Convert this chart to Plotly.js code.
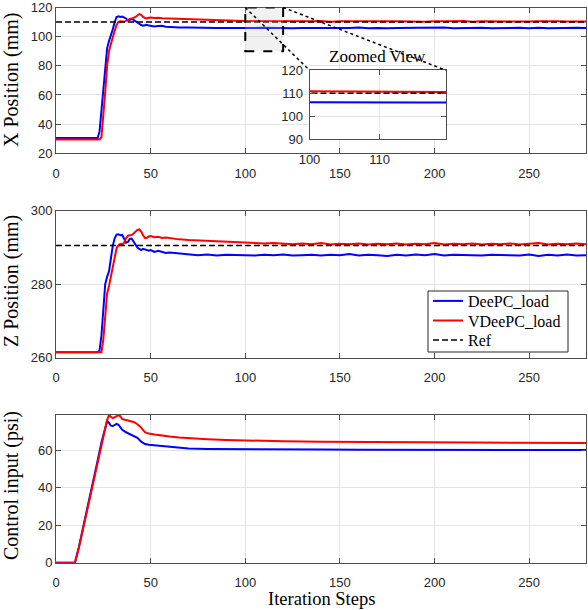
<!DOCTYPE html>
<html><head><meta charset="utf-8">
<script src="https://cdn.plot.ly/plotly-3.0.1.min.js"></script>
<style>html,body{margin:0;padding:0;background:#fff}#chart{width:588px;height:610px}</style>
</head><body><div id="chart"></div>
<script>
// ---------- data ----------
const steps = [0,22,23,24,25,26,27,28,29,30,31,32,33,34,35,36,37,38,39,40,41,42,43,44,45,46,47,48,49,50,52,54,56,58,
  60,65,70,75,80,85,90,95,100,105,110,115,120,125,130,135,140,145,150,155,160,165,170,175,180,185,190,195,200,205,210,215,220,225,230,235,240,245,250,255,260,265,270,275,280];

const xDeePC = [30.5,
  30.5,35,50,65,80,92,97,100.5,105,110,113.5,114,113.5,113.8,113.2,112.5,111,111.5,112,111.5,110.5,109.5,108.5,108,107.5,108,108.2,107.6,107.3,
  107,107.3,107.5,106.8,
  106.6,106.3,106.2,106.0,106.1,105.9,106.0,105.8,106.0,105.9,106.1,105.9,106.0,105.7,106.0,105.9,106.1,105.8,106.0,105.9,106.2,105.8,106.0,105.7,106.0,
  106.1,105.8,106.0,105.9,106.2,105.8,106.0,105.9,106.1,105.8,106.0,105.9,106.1,105.7,106.1,105.8,106.0,105.9,106.1,105.9];

const xVDeePC = [29.5,
  29.5,29.5,31,45,62,80,90,95,100.5,104,108,110.2,110.5,110.3,110.2,110.8,111.8,112.2,112.4,112.8,113.5,114.5,115.5,115,113.5,112.8,112.5,113,113.2,
  112.8,113,112.6,112.5,
  112.3,112.0,111.8,111.5,111.4,111.2,111.1,110.9,110.8,110.7,110.9,110.5,110.7,110.4,110.6,110.5,110.7,110.3,110.6,110.5,110.4,110.7,110.3,110.5,110.6,
  110.4,110.5,110.3,110.6,110.4,110.5,110.7,110.3,110.5,110.4,110.6,110.3,110.5,110.4,110.6,110.3,110.5,110.4,110.6,110.4];

const zDeePC = [261.5,
  261.5,262,266,273,280,282,283.5,287,290.5,292.5,293.5,293.6,293.3,293.4,292.5,291.3,291.5,292.3,292.4,291.5,290.5,290,289.6,289.3,289.6,289.5,289.2,289.1,289.3,
  288.8,289.1,288.7,288.5,
  288.6,288.3,288.1,287.9,288.1,287.8,288.0,287.9,288.0,287.8,288.0,287.9,288.1,287.8,287.9,288.0,287.8,288.0,287.9,288.2,287.8,288.0,287.9,287.7,288.0,
  287.8,288.1,287.9,288.2,287.8,288.0,287.9,288.0,287.8,288.0,287.9,288.0,287.8,288.1,287.7,288.0,287.8,288.1,287.8,287.9];

const zVDeePC = [261.5,
  261.5,261.5,261.5,265,272,277.5,279.5,282,285.5,288,289.8,290.6,291,290.8,291.3,292.5,293.2,293.3,293.4,293.8,294.3,294.8,294.9,294.3,293.3,292.6,292.6,293,293.1,
  292.8,292.9,292.6,292.7,
  292.5,292.2,292.0,291.9,291.7,291.6,291.5,291.3,291.4,291.2,291.1,291.2,291.0,290.9,291.1,290.9,291.2,290.8,291.0,290.9,291.1,290.8,291.0,290.9,291.1,
  290.8,291.0,290.9,291.2,290.8,291.0,290.9,291.1,290.8,291.0,290.9,291.1,290.8,291.0,291.2,290.8,291.0,290.9,291.1,290.9];

const uSteps = [0,10,12,14,16,18,20,22,24,26,27,28,29,30,31,32,33,34,35,37,39,41,43,45,47,49,52,55,60,65,70,80,90,100,120,140,160,180,200,220,240,260,280];
const uDeePC = [0,0,8,17,26,35.5,45,54.5,64,72.5,75.5,74.5,73,72.8,73.5,74,73.5,72,70.8,69.5,68.5,67.8,66.5,64.5,63.2,62.8,62.5,62.2,61.6,61,
  60.8,60.6,60.5,60.4,60.3,60.3,60.2,60.2,60.1,60.1,60.1,60.0,60.0];
const uVDeePC = [0,0,7.5,16.5,25.5,35,44,53.5,62.5,71,76,78.6,78,77,77.5,78.3,78.6,78,76.5,76,75.5,75,73.8,72,69.5,68.8,68.3,67.8,67.2,66.7,
  66.3,65.8,65.4,65.1,64.7,64.4,64.2,64.1,64.0,64.0,63.9,63.9,63.8];

const refSteps = [0,280];
const refX = [110,110];
const refZ = [290.5,290.5];

const xTicks = [0,50,100,150,200,250];
const xPosTicks = [20,40,60,80,100,120];
const zPosTicks = [260,280,300];
const uTicks = [0,20,40,60];
const insetXTicks = [100,110];
const insetYTicks = [90,100,110,120];
const zoomBoxX = [100,120];
const zoomBoxY = [90,120];

const seriesNames = ['DeePC_load','VDeePC_load','Ref'];

// ---------- layout helpers ----------
const W = 588, H = 610;
const fx = p => p / W;
const fy = p => 1 - p / H;
const lineC = '#4d4d4d', gridC = '#e4e4e4';
const tickFont = {family:'"Liberation Sans", Arial, sans-serif', size:13, color:'#262626'};
const serif = '"Liberation Serif", "Times New Roman", serif';
const BLUE = '#0000ff', RED = '#ff0000';

function ax(extra){
  return Object.assign({showline:true, mirror:'ticks', linecolor:lineC, linewidth:1,
    ticks:'inside', ticklen:5, tickwidth:1, tickcolor:lineC,
    showgrid:true, gridcolor:gridC, gridwidth:1, zeroline:false,
    tickfont:tickFont, fixedrange:true, ticklabeloverflow:'allow'}, extra);
}
const xDom = [fx(56), fx(586)];

function leg(yPx){
  return {x: fx(428), y: fy(yPx), xanchor:'left', yanchor:'middle',
    bgcolor:'rgba(0,0,0,0)', borderwidth:0,
    font:{family:serif, size:16, color:'#000'}};
}

const layout = {
  width: W, height: H,
  margin: {l:0, r:0, t:0, b:0},
  paper_bgcolor:'#fff', plot_bgcolor:'#fff',
  showlegend: true,
  legend: leg(301),
  legend2: leg(320.5),
  legend3: leg(340),
  xaxis:  ax({domain:xDom, range:[0,280], anchor:'y',  tickvals:xTicks, ticklabelstandoff:8}),
  yaxis:  ax({domain:[fy(153.3), fy(7.5)], range:[20,120], anchor:'x', tickvals:xPosTicks}),
  xaxis2: ax({domain:xDom, range:[0,280], anchor:'y2', tickvals:xTicks, ticklabelstandoff:8}),
  yaxis2: ax({domain:[fy(357.7), fy(210.7)], range:[260,300], anchor:'x2', tickvals:zPosTicks}),
  xaxis3: ax({domain:xDom, range:[0,280], anchor:'y3', tickvals:xTicks, ticklabelstandoff:8}),
  yaxis3: ax({domain:[fy(562.7), fy(415)], range:[0,78.7], anchor:'x3', tickvals:uTicks}),
  xaxis4: ax({domain:[fx(309.5), fx(446)], range:[100,119.5], anchor:'y4', tickvals:insetXTicks, ticklabelstandoff:8}),
  yaxis4: ax({domain:[fy(139), fy(70.3)], range:[90,120], anchor:'x4', tickvals:insetYTicks, ticklabelstandoff:3}),
  annotations: [
    {text:'X Position (mm)', xref:'paper', yref:'paper', x:fx(11), y:fy(80), textangle:-90, showarrow:false, xanchor:'center', yanchor:'middle', font:{family:serif, size:20, color:'#000'}},
    {text:'Z Position (mm)', xref:'paper', yref:'paper', x:fx(11), y:fy(281), textangle:-90, showarrow:false, xanchor:'center', yanchor:'middle', font:{family:serif, size:20, color:'#000'}},
    {text:'Control input (psi)', xref:'paper', yref:'paper', x:fx(11), y:fy(486), textangle:-90, showarrow:false, xanchor:'center', yanchor:'middle', font:{family:serif, size:20, color:'#000'}},
    {text:'Iteration Steps', xref:'paper', yref:'paper', x:fx(321), y:fy(599), showarrow:false, xanchor:'center', yanchor:'middle', font:{family:serif, size:18.5, color:'#000'}},
    {text:'Zoomed View', xref:'paper', yref:'paper', x:fx(377.5), y:fy(57), showarrow:false, xanchor:'center', yanchor:'middle', font:{family:serif, size:17, color:'#000'}}
  ],
  shapes: []
};

function px(axis, v){ return axis.domain[0] + (v-axis.range[0])/(axis.range[1]-axis.range[0])*(axis.domain[1]-axis.domain[0]); }

// inset white background (covers main plot beneath)
layout.shapes.push({type:'rect', xref:'x4', yref:'y4', x0:layout.xaxis4.range[0], x1:layout.xaxis4.range[1],
  y0:layout.yaxis4.range[0], y1:layout.yaxis4.range[1], fillcolor:'#fff', line:{width:0}, layer:'below'});
// zoom box on main plot
layout.shapes.push({type:'rect', xref:'x', yref:'y', x0:zoomBoxX[0], x1:zoomBoxX[1], y0:zoomBoxY[0], y1:zoomBoxY[1],
  fillcolor:'rgba(200,200,200,0.25)', line:{color:'#000', width:2, dash:'dash'}, layer:'above'});
// connecting dotted lines
layout.shapes.push({type:'line', xref:'paper', yref:'paper',
  x0:px(layout.xaxis, zoomBoxX[0]), y0:px(layout.yaxis, zoomBoxY[1]),
  x1:layout.xaxis4.domain[0], y1:layout.yaxis4.domain[1], line:{color:'#000', width:1.5, dash:'dot'}, layer:'above'});
layout.shapes.push({type:'line', xref:'paper', yref:'paper',
  x0:px(layout.xaxis, zoomBoxX[1]), y0:px(layout.yaxis, zoomBoxY[1]),
  x1:layout.xaxis4.domain[1], y1:layout.yaxis4.domain[1], line:{color:'#000', width:1.5, dash:'dot'}, layer:'above'});
// legend frame
layout.shapes.push({type:'rect', xref:'paper', yref:'paper', x0:fx(428), x1:fx(568), y0:fy(352), y1:fy(291),
  fillcolor:'#fff', line:{color:'#262626', width:1}, layer:'above'});

function ln(x, y, xa, ya, color, name, show, dash, width, legendId){
  return {type:'scatter', mode:'lines', x:x, y:y, xaxis:xa, yaxis:ya, name:name, showlegend:show,
    legend: legendId || 'legend',
    line:{color:color, width:width||2, dash:dash||'solid'}, hoverinfo:'skip'};
}
const REFDASH = '6px,3px';
const traces = [
  // middle panel (legend entries)
  ln(steps, zDeePC, 'x2','y2', BLUE, seriesNames[0], true, null, 2, 'legend'),
  ln(steps, zVDeePC,'x2','y2', RED,  seriesNames[1], true, null, 2, 'legend2'),
  ln(refSteps, refZ,'x2','y2', '#000', seriesNames[2], true, REFDASH, 1.5, 'legend3'),
  // top panel
  ln(steps, xDeePC, 'x','y', BLUE, seriesNames[0], false),
  ln(steps, xVDeePC,'x','y', RED,  seriesNames[1], false),
  ln(refSteps, refX,'x','y', '#000', seriesNames[2], false, REFDASH, 1.5),
  // bottom panel
  ln(uSteps, uDeePC, 'x3','y3', BLUE, seriesNames[0], false),
  ln(uSteps, uVDeePC,'x3','y3', RED,  seriesNames[1], false),
  // inset
  ln(steps, xDeePC, 'x4','y4', BLUE, seriesNames[0], false),
  ln(steps, xVDeePC,'x4','y4', RED,  seriesNames[1], false),
  ln(refSteps, refX,'x4','y4', '#000', seriesNames[2], false, REFDASH, 1.5)
];

Plotly.newPlot('chart', traces, layout, {staticPlot:true, displayModeBar:false});
</script>
</body></html>
